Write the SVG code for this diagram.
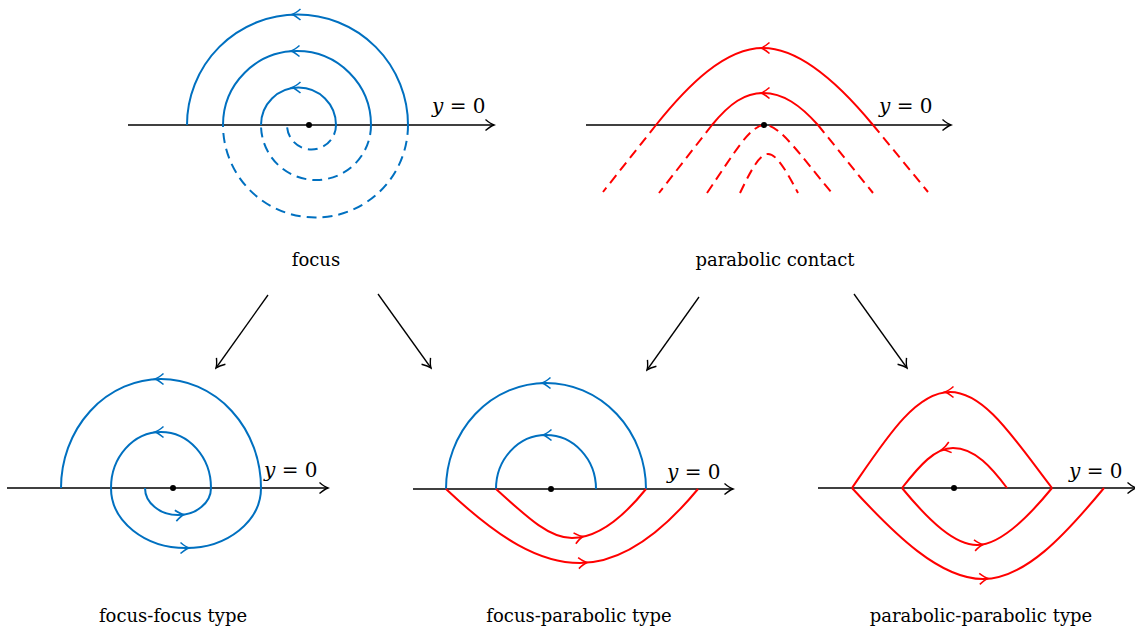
<svg xmlns="http://www.w3.org/2000/svg" xmlns:xlink="http://www.w3.org/1999/xlink" width="1135" height="630" viewBox="0 0 1135 630">
<style>
.blue{fill:none;stroke:#0070C0;stroke-width:2}
.red{fill:none;stroke:#FF0000;stroke-width:2}
.dash{stroke-dasharray:10 6}
.axis{fill:none;stroke:#000;stroke-width:1.4}
.conn{fill:none;stroke:#000;stroke-width:1.3}
.lbl{font-family:"DejaVu Serif","Liberation Serif",serif;font-size:18px;fill:#000;text-anchor:middle}
.math{font-family:"DejaVu Serif","Liberation Serif",serif;font-size:20px;fill:#000}
.it{font-style:italic}
</style>
<defs>
<path id="chev" d="M-8.5,-5.5 Q-3.5,-1.2 0,0 Q-3.5,1.2 -8.5,5.5" fill="none" stroke-width="1.6"/>
<marker id="ah" viewBox="-10 -7 12 14" refX="0" refY="0" markerWidth="12" markerHeight="14" markerUnits="userSpaceOnUse" orient="auto">
<path d="M-8.5,-5.5 Q-3.5,-1.2 0,0 Q-3.5,1.2 -8.5,5.5" fill="none" stroke="#000" stroke-width="1.4"/>
</marker>
</defs>

<g id="focus">
<path class="axis" d="M128,125 L494,125" marker-end="url(#ah)"/>
<path class="blue" d="M187,125 A110.5,110.5 0 0 1 408,125"/>
<path class="blue" d="M223,125 A74,74 0 0 1 371,125"/>
<path class="blue" d="M261,125 A37.5,37.5 0 0 1 336,125"/>
<path class="blue dash" d="M408,125 A92.5,92.5 0 0 1 223,125"/>
<path class="blue dash" d="M371,125 A55,55 0 0 1 261,125"/>
<path class="blue dash" d="M336,125 A24.5,24.5 0 0 1 287,125"/>
<use xlink:href="#chev" stroke="#0070C0" transform="translate(292,14.5) rotate(180)"/>
<use xlink:href="#chev" stroke="#0070C0" transform="translate(291,51) rotate(180)"/>
<use xlink:href="#chev" stroke="#0070C0" transform="translate(292,87.5) rotate(180)"/>
<circle cx="309" cy="125" r="3"/>
<text class="math" x="432" y="113"><tspan class="it">y</tspan> = 0</text>
<text class="lbl" x="316" y="266">focus</text>
</g>

<g id="parabolic-contact">
<path class="axis" d="M586,125 L951,125" marker-end="url(#ah)"/>
<path class="red" d="M656,125 C688,85 725,48 763,48 C801,48 840,85 873,125"/>
<path class="red" d="M712,125 C730,103 745,93 763,93 C783,93 800,105 818,125"/>
<path class="red dash" d="M656,125 L603,192"/>
<path class="red dash" d="M873,125 L928,192"/>
<path class="red dash" d="M712,125 L659,193"/>
<path class="red dash" d="M818,125 L873,193"/>
<path class="red dash" d="M707,193 C735,152 750,125 765,125 C780,125 800,155 832,193"/>
<path class="red dash" d="M740,193 C752,168 760,154 768,154 C776,154 785,168 798,193"/>
<use xlink:href="#chev" stroke="#FF0000" transform="translate(761,48) rotate(180)"/>
<use xlink:href="#chev" stroke="#FF0000" transform="translate(761,93) rotate(180)"/>
<circle cx="764" cy="125" r="3"/>
<text class="math" x="879" y="113"><tspan class="it">y</tspan> = 0</text>
<text class="lbl" x="775" y="266">parabolic contact</text>
</g>

<g id="focus-focus">
<path class="axis" d="M7,488 L328,488" marker-end="url(#ah)"/>
<path class="blue" d="M61,488 A100,109 0 0 1 261,488"/>
<path class="blue" d="M111,488 A50,56 0 0 1 211,488"/>
<path class="blue" d="M111,488 A75,60 0 0 0 261,488"/>
<path class="blue" d="M145,488 A33,27 0 0 0 211,488"/>
<use xlink:href="#chev" stroke="#0070C0" transform="translate(155,379) rotate(180)"/>
<use xlink:href="#chev" stroke="#0070C0" transform="translate(155,432) rotate(180)"/>
<use xlink:href="#chev" stroke="#0070C0" transform="translate(189,548)"/>
<use xlink:href="#chev" stroke="#0070C0" transform="translate(184,514.5) rotate(-8)"/>
<circle cx="173" cy="488" r="3"/>
<text class="math" x="264" y="477"><tspan class="it">y</tspan> = 0</text>
<text class="lbl" x="173" y="622">focus-focus type</text>
</g>

<g id="focus-parabolic">
<path class="axis" d="M413,489 L733,489" marker-end="url(#ah)"/>
<path class="blue" d="M446,489 A100,106 0 0 1 646,489"/>
<path class="blue" d="M496,489 A50,54 0 0 1 596,489"/>
<path class="red" d="M446,489 C500,540 540,563 580,563 C620,563 660,535 698,489"/>
<path class="red" d="M496,489 C530,520 550,538 572,538 C600,538 625,515 646,489"/>
<use xlink:href="#chev" stroke="#0070C0" transform="translate(542,383) rotate(180)"/>
<use xlink:href="#chev" stroke="#0070C0" transform="translate(543,435) rotate(180)"/>
<use xlink:href="#chev" stroke="#FF0000" transform="translate(587,562.5) rotate(-4)"/>
<use xlink:href="#chev" stroke="#FF0000" transform="translate(583,536.5) rotate(-12)"/>
<circle cx="551" cy="489" r="3"/>
<text class="math" x="667" y="479"><tspan class="it">y</tspan> = 0</text>
<text class="lbl" x="579" y="622">focus-parabolic type</text>
</g>

<g id="parabolic-parabolic">
<path class="axis" d="M818,488 L1136,488" marker-end="url(#ah)"/>
<path class="red" d="M852,488 C885,440 915,392 950,392 C985,392 1015,440 1052,488"/>
<path class="red" d="M902,488 C920,465 935,448 953,448 C975,448 992,468 1007,488"/>
<path class="red" d="M852,488 C895,535 940,579 983,579 C1025,579 1065,535 1104,488"/>
<path class="red" d="M902,488 C930,522 955,545 977,545 C1000,545 1030,515 1052,488"/>
<use xlink:href="#chev" stroke="#FF0000" transform="translate(945,392) rotate(180)"/>
<use xlink:href="#chev" stroke="#FF0000" transform="translate(942,449.5) rotate(165)"/>
<use xlink:href="#chev" stroke="#FF0000" transform="translate(988,578.5) rotate(-3)"/>
<use xlink:href="#chev" stroke="#FF0000" transform="translate(983,544.5) rotate(-6)"/>
<circle cx="954" cy="488" r="3"/>
<text class="math" x="1069" y="478"><tspan class="it">y</tspan> = 0</text>
<text class="lbl" x="981" y="622">parabolic-parabolic type</text>
</g>

<g id="connectors">
<path class="conn" d="M268,295 L216,368" marker-end="url(#ah)"/>
<path class="conn" d="M378,294 L431,368" marker-end="url(#ah)"/>
<path class="conn" d="M699,297 L647,370" marker-end="url(#ah)"/>
<path class="conn" d="M854,294 L907,368" marker-end="url(#ah)"/>
</g>
</svg>
